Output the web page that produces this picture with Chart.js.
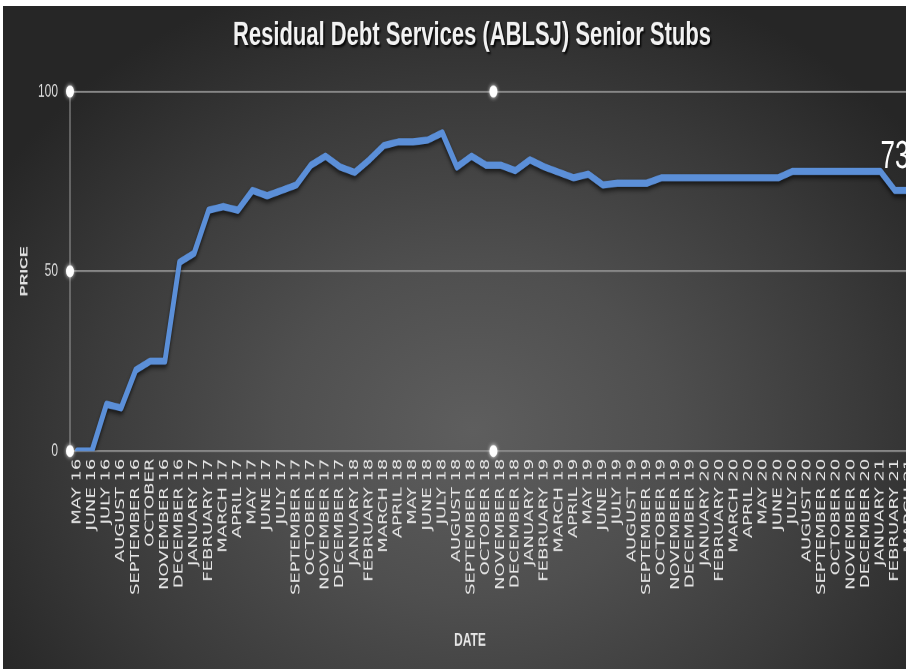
<!DOCTYPE html>
<html>
<head>
<meta charset="utf-8">
<script src="https://cdn.jsdelivr.net/npm/chart.js@4/dist/chart.umd.min.js"></script>
<style>
  html, body { margin: 0; padding: 0; background: #fff; overflow: hidden; width: 906px; height: 669px; }
  #wrap {
    position: absolute; left: 3px; top: 6px; width: 903px; height: 663px; overflow: hidden;
    background: radial-gradient(ellipse 62% 72% at 52% 64%, #5e5e5e 0%, #4f4f4f 35%, #3a3a3a 70%, #262626 100%);
  }
  #myChart { position: absolute; left: 0; top: 0; transform: scaleY(1.5); transform-origin: 0 0; }
</style>
</head>
<body>
<div id="wrap"><canvas id="myChart" width="926" height="442"></canvas></div>
<script>
// months on the x axis (august 17 is missing in the source too)
var months = [
  'MAY 16', 'JUNE 16', 'JULY 16', 'AUGUST 16', 'SEPTEMBER 16', 'OCTOBER', 'NOVEMBER 16', 'DECEMBER 16',
  'JANUARY 17', 'FEBRUARY 17', 'MARCH 17', 'APRIL 17', 'MAY 17', 'JUNE 17', 'JULY 17',
  'SEPTEMBER 17', 'OCTOBER 17', 'NOVEMBER 17', 'DECEMBER 17',
  'JANUARY 18', 'FEBRUARY 18', 'MARCH 18', 'APRIL 18', 'MAY 18', 'JUNE 18', 'JULY 18',
  'AUGUST 18', 'SEPTEMBER 18', 'OCTOBER 18', 'NOVEMBER 18', 'DECEMBER 18',
  'JANUARY 19', 'FEBRUARY 19', 'MARCH 19', 'APRIL 19', 'MAY 19', 'JUNE 19', 'JULY 19',
  'AUGUST 19', 'SEPTEMBER 19', 'OCTOBER 19', 'NOVEMBER 19', 'DECEMBER 19',
  'JANUARY 20', 'FEBRUARY 20', 'MARCH 20', 'APRIL 20', 'MAY 20', 'JUNE 20', 'JULY 20',
  'AUGUST 20', 'SEPTEMBER 20', 'OCTOBER 20', 'NOVEMBER 20', 'DECEMBER 20',
  'JANUARY 21', 'FEBRUARY 21', 'MARCH 21'
];

var prices = [
  0, 0, 13, 12, 22.5, 25, 25, 52.5,
  55, 67, 68, 67, 72.5, 71, 72.5,
  74, 79.5, 82, 79,
  77.5, 81, 85, 86, 86, 86.5, 88.5,
  79, 82, 79.5, 79.5, 78,
  81, 79, 77.5, 76, 77, 74, 74.5,
  74.5, 74.5, 76, 76, 76,
  76, 76, 76, 76, 76, 76, 77.8,
  77.8, 77.8, 77.8, 77.8, 77.8,
  77.8, 72.5, 72.5
];

var yTicks = [0, 50, 100];
var labelIndex = 56; // the only data label shown

var chartTitle = 'Residual Debt Services (ABLSJ) Senior Stubs';
var xTitle = 'DATE';
var yTitle = 'PRICE';

var lineShadow = {
  id: 'lineShadow',
  beforeDatasetsDraw: function (chart) {
    var ctx = chart.ctx;
    ctx.save();
    ctx.shadowColor = 'rgba(0,0,0,0.65)';
    ctx.shadowBlur = 6;
    ctx.shadowOffsetY = 4;
  },
  afterDatasetsDraw: function (chart) {
    chart.ctx.restore();
  }
};

var extras = {
  id: 'extras',
  afterDraw: function (chart) {
    var ctx = chart.ctx;
    var area = chart.chartArea;

    // title with a dark shadow
    ctx.save();
    ctx.font = 'bold 22px "Liberation Sans", Arial, sans-serif';
    ctx.textAlign = 'center';
    ctx.textBaseline = 'middle';
    ctx.shadowColor = 'rgba(0,0,0,0.85)';
    ctx.shadowBlur = 3;
    ctx.shadowOffsetX = 3;
    ctx.shadowOffsetY = 3;
    ctx.fillStyle = '#f2f2f2';
    ctx.fillText(chartTitle, 469, 20);
    ctx.restore();

    // x axis title
    ctx.save();
    ctx.font = 'bold 12px "Liberation Sans", Arial, sans-serif';
    ctx.textAlign = 'center';
    ctx.textBaseline = 'middle';
    ctx.fillStyle = '#e6e6e6';
    ctx.fillText(xTitle, 467, 423);
    ctx.restore();

    // data label
    var pt = chart.getDatasetMeta(0).data[labelIndex];
    ctx.save();
    ctx.font = '26px "Liberation Sans", Arial, sans-serif';
    ctx.textAlign = 'center';
    ctx.textBaseline = 'alphabetic';
    ctx.fillStyle = '#ffffff';
    ctx.fillText(String(Math.round(prices[labelIndex])), pt.x, pt.y - 15);
    ctx.restore();

    // selection handles on the plot area
    var midX = (area.left + area.right) / 2;
    var midY = (area.top + area.bottom) / 2;
    var handles = [[area.left, area.top], [area.left, midY], [area.left, area.bottom], [midX, area.top], [midX, area.bottom]];
    ctx.save();
    ctx.fillStyle = '#ffffff';
    ctx.shadowColor = 'rgba(255,255,255,0.9)';
    ctx.shadowBlur = 6;
    handles.forEach(function (h) {
      ctx.beginPath();
      ctx.arc(h[0], h[1], 4, 0, Math.PI * 2);
      ctx.fill();
    });
    ctx.restore();
  }
};

var ctx = document.getElementById('myChart');
var myChart = new Chart(ctx, {
  type: 'line',
  data: {
    labels: months,
    datasets: [{
      data: prices,
      borderColor: '#5b8fd8',
      borderWidth: 4.8,
      borderJoinStyle: 'round',
      borderCapStyle: 'round',
      pointRadius: 0,
      tension: 0,
      fill: false
    }]
  },
  options: {
    responsive: false,
    animation: false,
    devicePixelRatio: 2,
    layout: { padding: { top: 57, right: 6, left: 0, bottom: 0 } },
    plugins: {
      legend: { display: false },
      tooltip: { enabled: false },
      title: { display: false }
    },
    scales: {
      x: {
        offset: true,
        grid: { display: false, drawTicks: false },
        border: { display: false },
        ticks: {
          autoSkip: false,
          maxRotation: 90,
          minRotation: 90,
          padding: 5,
          color: '#e6e6e6',
          font: { family: '"DejaVu Sans", sans-serif', size: 12 }
        },
        afterFit: function (scale) { scale.height = 145.3; }
      },
      y: {
        min: 0,
        max: 100,
        afterBuildTicks: function (scale) {
          scale.ticks = yTicks.map(function (v) { return { value: v }; });
        },
        grid: { color: '#878787', lineWidth: 1.4, drawTicks: false },
        border: { display: true, color: '#9c9c9c', width: 1 },
        ticks: {
          padding: 12,
          color: '#dedede',
          font: { family: '"Liberation Sans", Arial, sans-serif', size: 12 }
        },
        title: {
          display: true,
          text: yTitle,
          color: '#e2e2e2',
          font: { family: '"Liberation Sans", Arial, sans-serif', size: 11, weight: 'bold' },
          padding: { top: 15, bottom: 0 }
        },
        afterFit: function (scale) { scale.width = 67; }
      }
    }
  },
  plugins: [lineShadow, extras]
});
</script>
</body>
</html>
